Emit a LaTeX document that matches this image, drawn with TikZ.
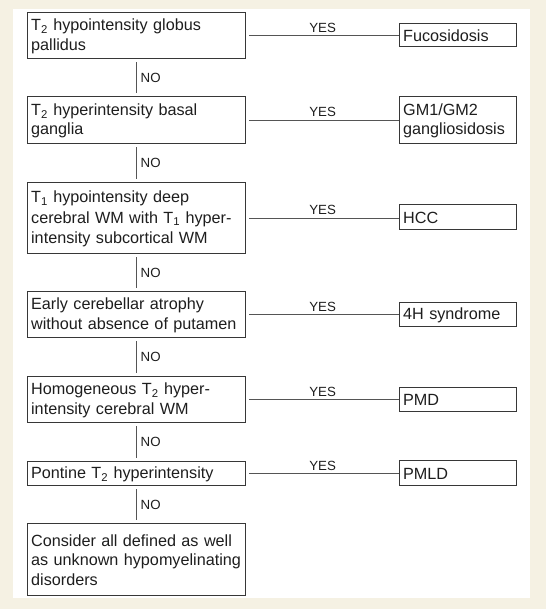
\documentclass[tikz,border=0pt]{standalone}
\usepackage{fontspec}
\setmainfont{Liberation Sans}
\definecolor{bgbeige}{RGB}{245,241,227}
\definecolor{edgegray}{RGB}{55,55,55}
\definecolor{linkgray}{RGB}{85,85,85}
\definecolor{txt}{RGB}{30,30,30}
\begin{document}
\begin{tikzpicture}[x=1pt,y=-1pt,
  qbox/.style={draw=edgegray, line width=1.3pt, fill=white, align=left,
    inner xsep=3.5pt, inner ysep=0pt, text=txt,
    font=\fontsize{16.2}{19.5}\selectfont, anchor=north west,
    execute at begin node={\rule{0pt}{13.5pt}},
    execute at end node={\rule[-1.5pt]{0pt}{1.5pt}}},
  lbox/.style={qbox, text width=211pt, minimum width=218pt},
  rbox/.style={qbox, text width=110pt, minimum width=117pt},
  link/.style={draw=linkgray, line width=0.9pt},
  lab/.style={font=\fontsize{13.3}{14}\selectfont, text=txt}
]
\useasboundingbox (0,0) rectangle (546,609);
\fill[bgbeige] (0,0) rectangle (546,609);
\fill[white] (13,9) rectangle (530,598);

% left column
\node[lbox, minimum height=46pt] (b1) at (27,12) {T\textsubscript{2} hypointensity globus\\pallidus};
\node[lbox, minimum height=47pt] (b2) at (27,96) {T\textsubscript{2} hyperintensity basal\\ganglia};
\node[lbox, minimum height=71pt, font=\fontsize{16.2}{20.5}\selectfont] (b3) at (27,182) {T\textsubscript{1} hypointensity deep\\cerebral WM with T\textsubscript{1} hyper-\\intensity subcortical WM};
\node[lbox, minimum height=46pt] (b4) at (27,291) {Early cerebellar atrophy\\without absence of putamen};
\node[lbox, minimum height=46pt] (b5) at (27,376) {Homogeneous T\textsubscript{2} hyper-\\intensity cerebral WM};
\node[lbox, minimum height=24pt] (b6) at (27,461) {Pontine T\textsubscript{2} hyperintensity};
\node[lbox, minimum height=72pt] (b7) at (27,523) {Consider all defined as well\\as unknown hypomyelinating\\disorders};

% right column
\node[rbox, minimum height=23pt] (r1) at (399,23) {Fucosidosis};
\node[rbox, minimum height=47pt] (r2) at (399,96) {GM1/GM2\\gangliosidosis};
\node[rbox, minimum height=25pt] (r3) at (399,204) {HCC};
\node[rbox, minimum height=24pt] (r4) at (399,302) {4H syndrome};
\node[rbox, minimum height=24pt] (r5) at (399,387) {PMD};
\node[rbox, minimum height=25pt] (r6) at (399,460) {PMLD};

% YES connectors
\foreach \i in {1,...,6}{
  \draw[link, shorten <=3pt] (b\i.east) -- (b\i.east -| r\i.west)
    node[midway, above, lab, inner sep=3pt] {YES};
}

% NO connectors
\foreach \i/\j in {1/2,2/3,3/4,4/5,5/6,6/7}{
  \draw[link, line width=1.1pt, shorten <=3pt, shorten >=3pt] (b\i.south) -- (b\j.north)
    node[midway, right, lab, inner xsep=3.5pt] {NO};
}
\end{tikzpicture}
\end{document}
